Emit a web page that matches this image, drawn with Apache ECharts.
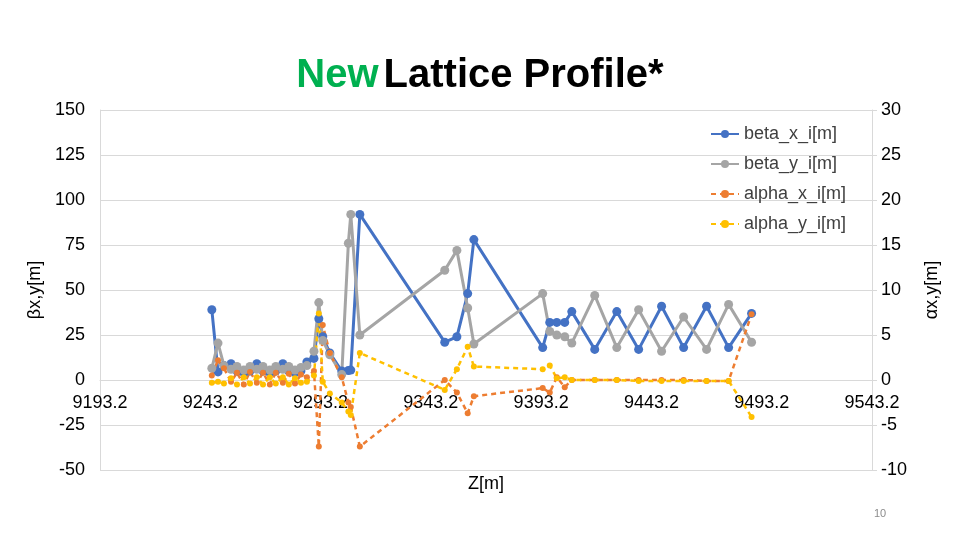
<!DOCTYPE html>
<html>
<head>
<meta charset="utf-8">
<script src="https://cdn.jsdelivr.net/npm/echarts@6/dist/echarts.min.js"></script>
<style>
  html, body { margin: 0; padding: 0; background: #fff; }
  #main { width: 960px; height: 540px; }
</style>
</head>
<body>
<div id="main"></div>
<script>
// Z positions [m]
var zPos = [9243.9, 9246.7, 9249.4, 9252.6, 9255.3, 9258.4, 9261.2, 9264.3, 9267.1, 9270.2,
    9272.9, 9276.1, 9278.8, 9281.6, 9284.3, 9287.0, 9290.2, 9292.4, 9294.2, 9297.4,
    9302.8, 9305.8, 9306.9, 9311.0, 9349.5, 9355.0, 9359.9, 9362.7, 9393.9, 9397.1,
    9400.3, 9403.9, 9407.1, 9417.5, 9427.5, 9437.4, 9447.8, 9457.8, 9468.2, 9478.2, 9488.6];
var betaX = [39, 4.5, 8, 9, 5, 4, 5, 9, 5, 4,
    5, 9, 5, 4, 5, 10, 12, 34, 24, 15,
    5, 5.3, 5.5, 92, 21, 24, 48, 78, 18, 32,
    32, 32, 38, 17, 38, 17, 41, 18, 41, 18, 37];
var betaY = [6.5, 20.5, 8, 6, 7.5, 5.5, 7.5, 6, 7.5, 5.5,
    7.5, 6, 7.5, 5.5, 7, 8, 16, 43, 22, 14,
    3, 76, 92, 25, 61, 72, 40, 20, 48, 27,
    25, 24, 20.5, 47, 18, 39, 16, 35, 17, 42, 21];
var alphaX = [0.5, 2.2, 1.3, -0.2, 0.8, -0.5, 0.9, -0.3, 0.8, -0.5,
    0.8, -0.3, 0.7, -0.4, 0.6, 0.3, 1.0, -7.4, 6.1, 3.0,
    0.3, -2.5, -3, -7.4, 0, -1.4, -3.7, -1.8, -0.9, -1.4,
    0.3, -0.8, 0, 0, 0, 0, 0, 0, -0.1, -0.1, 7.3];
var alphaY = [-0.3, -0.2, -0.4, 0.2, -0.5, 0.3, -0.4, 0.3, -0.5, 0.3,
    -0.4, 0.3, -0.5, 0.2, -0.3, -0.2, 0.5, 7.4, -0.2, -1.5,
    -2.5, -3.5, -3.9, 3.0, -1.1, 1.2, 3.7, 1.5, 1.2, 1.6,
    0.2, 0.3, 0, 0, 0, -0.1, -0.1, -0.1, -0.1, -0.1, -4.1];

function pairs(vals) {
    return zPos.map(function (z, i) { return [z, vals[i]]; });
}

var labelFont = 'Liberation Sans';
var myChart = echarts.init(document.getElementById('main'));

var option = {
    animation: false,
    title: {
        left: 'center',
        top: 51,
        text: '{g|New} {k|Lattice Profile*}',
        textStyle: {
            rich: {
                g: { color: '#00B050', fontSize: 40, fontWeight: 'bold', fontFamily: labelFont },
                k: { color: '#000', fontSize: 40, fontWeight: 'bold', fontFamily: labelFont }
            }
        }
    },
    legend: {
        orient: 'vertical',
        left: 705,
        top: 120,
        itemWidth: 28,
        itemHeight: 10,
        itemGap: 12,
        textStyle: { fontSize: 18, color: '#404040', fontFamily: labelFont },
        data: ['beta_x_i[m]', 'beta_y_i[m]', 'alpha_x_i[m]', 'alpha_y_i[m]']
    },
    grid: { left: 100, right: 88, top: 110, bottom: 70, outerBoundsMode: 'none', containLabel: false },
    xAxis: {
        type: 'value',
        min: 9193.2,
        max: 9543.2,
        interval: 50,
        offset: -90,   // axis drawn at y = 0 of the left axis
        name: 'Z[m]',
        nameLocation: 'middle',
        nameGap: 95,
        nameTextStyle: { fontSize: 18, color: '#000', fontFamily: labelFont },
        axisLine: { onZero: false, lineStyle: { color: '#d9d9d9' } },
        axisTick: { show: false },
        splitLine: { show: false },
        axisLabel: {
            margin: 14,
            fontSize: 18,
            color: '#000',
            fontFamily: labelFont,
            formatter: function (v) { return v.toFixed(1); }
        }
    },
    yAxis: [
        {
            type: 'value',
            min: -50,
            max: 150,
            interval: 25,
            name: 'βx,y[m]',
            nameLocation: 'middle',
            nameGap: 51,
            nameTextStyle: { fontSize: 18, color: '#000', fontFamily: labelFont },
            axisLine: { show: true, onZero: false, lineStyle: { color: '#d9d9d9' } },
            axisTick: { show: false },
            splitLine: { lineStyle: { color: '#d9d9d9', width: 1 } },
            axisLabel: { margin: 15, fontSize: 18, color: '#000', fontFamily: labelFont }
        },
        {
            type: 'value',
            min: -10,
            max: 30,
            interval: 5,
            name: 'αx,y[m]',
            nameLocation: 'middle',
            nameGap: 51,
            nameTextStyle: { fontSize: 18, color: '#000', fontFamily: labelFont },
            axisLine: { show: true, onZero: false, lineStyle: { color: '#d9d9d9' } },
            axisTick: { show: true, length: 5, lineStyle: { color: '#d9d9d9' } },
            splitLine: { show: false },
            axisLabel: { margin: 9, fontSize: 18, color: '#000', fontFamily: labelFont }
        }
    ],
    graphic: [{
        type: 'text',
        left: 874,
        top: 508,
        style: { text: '10', fontSize: 11, fill: '#8c8c8c', fontFamily: labelFont }
    }],
    series: [
        {
            name: 'beta_x_i[m]',
            type: 'line',
            data: pairs(betaX),
            symbol: 'circle',
            symbolSize: 9,
            itemStyle: { color: '#4472C4' },
            lineStyle: { width: 3, color: '#4472C4' }
        },
        {
            name: 'beta_y_i[m]',
            type: 'line',
            data: pairs(betaY),
            symbol: 'circle',
            symbolSize: 9,
            itemStyle: { color: '#A5A5A5' },
            lineStyle: { width: 3, color: '#A5A5A5' }
        },
        {
            name: 'alpha_x_i[m]',
            type: 'line',
            yAxisIndex: 1,
            data: pairs(alphaX),
            symbol: 'circle',
            symbolSize: 6,
            itemStyle: { color: '#ED7D31' },
            lineStyle: { width: 2.5, type: [5, 4], color: '#ED7D31' }
        },
        {
            name: 'alpha_y_i[m]',
            type: 'line',
            yAxisIndex: 1,
            data: pairs(alphaY),
            symbol: 'circle',
            symbolSize: 6,
            itemStyle: { color: '#FFC000' },
            lineStyle: { width: 2.5, type: [5, 4], color: '#FFC000' }
        }
    ]
};

if (option && typeof option === "object") {
    myChart.setOption(option, true);
}
</script>
</body>
</html>
